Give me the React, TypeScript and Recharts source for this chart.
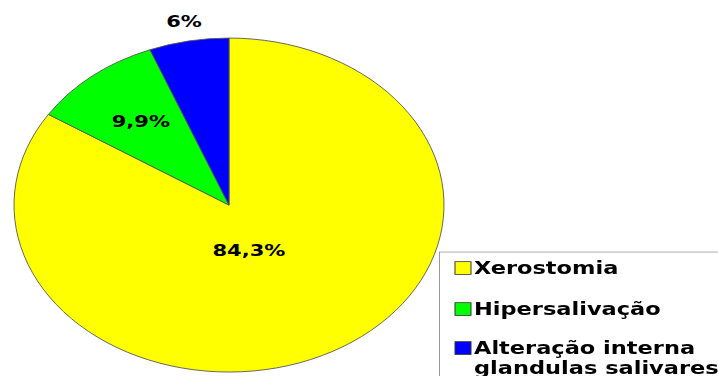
import { Cell, Legend, Pie, PieChart } from 'recharts'

const categories = ['Xerostomia', 'Hipersalivação', 'Alteração interna glandulas salivares']
const percents = [84.3, 9.9, 6]
const colors = ['#FFFF00', '#00FF00', '#0000FF']

const data = categories.map((name, i) => ({ name, value: percents[i] }))

// the original picture is an ellipse: draw a circle and squash the whole chart vertically
const SY = 0.7767
const FONT = '"DejaVu Sans", Verdana, sans-serif'
const RADIAN = Math.PI / 180
const labelDist = [0.31, 0.647, 1.12]

function wrap(text: string, max = 19) {
  const lines: string[] = []
  let cur = ''
  for (const w of text.split(' ')) {
    if (cur && (cur + ' ' + w).length > max) {
      lines.push(cur)
      cur = w
    } else cur = cur ? cur + ' ' + w : w
  }
  if (cur) lines.push(cur)
  return lines
}

function renderLabel(p: any) {
  const r = p.outerRadius * labelDist[p.index]
  let x = p.cx + r * Math.cos(-p.midAngle * RADIAN)
  const y = p.cy + r * Math.sin(-p.midAngle * RADIAN)
  if (p.index === 0) x -= 12 // big slice label sits a bit nearer the centre line
  return (
    <text
      x={x}
      y={y}
      textAnchor="middle"
      dominantBaseline="central"
      fontFamily={FONT}
      fontWeight="bold"
      fontSize={21}
      fill="#000"
    >
      {String(p.value).replace('.', ',') + '%'}
    </text>
  )
}

function LegendBox() {
  const baselines = [28.4, 81.2, 131.4]
  return (
    <svg width={300} height={200} style={{ display: 'block' }}>
      {data.map((d, i) => {
        const lines = wrap(d.name)
        return (
          <g key={d.name}>
            <rect
              x={15}
              y={baselines[i] - 16.5}
              width={16}
              height={16.5}
              fill={colors[i]}
              stroke="#333"
              strokeWidth={1}
            />
            <text
              x={34}
              y={baselines[i]}
              fontFamily={FONT}
              fontWeight="bold"
              fontSize={22.5}
              fill="#000"
            >
              {lines.map((ln, j) => (
                <tspan key={j} x={34} dy={j === 0 ? 0 : 24.5}>
                  {ln}
                </tspan>
              ))}
            </text>
          </g>
        )
      })}
    </svg>
  )
}

export default function App() {
  return (
    <div
      style={{
        position: 'absolute',
        left: 0,
        top: 0,
        width: 718,
        height: 376 / SY,
        transform: `scaleY(${SY})`,
        transformOrigin: '0 0',
        background: '#fff',
        overflow: 'hidden',
      }}
    >
      <PieChart width={718} height={376 / SY} margin={{ top: 0, right: 0, bottom: 0, left: 0 }}>
        <Pie
          data={data}
          dataKey="value"
          nameKey="name"
          cx={229}
          cy={264}
          outerRadius={215}
          startAngle={90}
          endAngle={-270}
          stroke="#555"
          strokeWidth={1}
          label={renderLabel}
          labelLine={false}
          isAnimationActive={false}
        >
          {data.map((d, i) => (
            <Cell key={d.name} fill={colors[i]} />
          ))}
        </Pie>
        <Legend
          layout="vertical"
          align="right"
          verticalAlign="bottom"
          content={() => <LegendBox />}
          wrapperStyle={{
            position: 'absolute',
            left: 439,
            top: 324,
            width: 300,
            height: 200,
            border: '1px solid #999',
            background: '#fff',
          }}
        />
      </PieChart>
    </div>
  )
}
